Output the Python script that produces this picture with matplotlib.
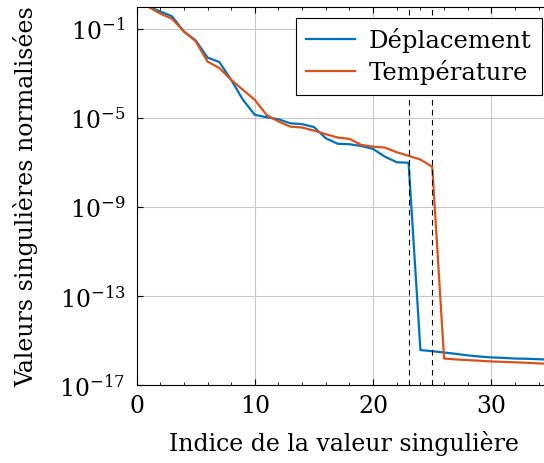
import numpy as np
import matplotlib
matplotlib.use("Agg")
import matplotlib.pyplot as plt

plt.rcParams['font.family'] = ['DejaVu Serif']
plt.rcParams['mathtext.fontset'] = 'dejavuserif'

# singular value index
indices = list(range(1, 36))

# log10 of normalised singular values
log_depl = [0.0, -0.21, -0.43, -1.11, -1.51, -2.28, -2.48, -3.28, -4.18, -4.85,
            -4.96, -5.05, -5.23, -5.27, -5.40, -5.90, -6.15, -6.17, -6.25, -6.38,
            -6.73, -6.98, -7.00, -15.41, -15.46, -15.52, -15.58, -15.65, -15.70, -15.74,
            -15.76, -15.79, -15.80, -15.82, -15.84]
log_temp = [0.0, -0.31, -0.54, -1.11, -1.55, -2.46, -2.75, -3.28, -3.73, -4.18,
            -4.86, -5.15, -5.38, -5.42, -5.56, -5.72, -5.87, -5.93, -6.20, -6.28,
            -6.32, -6.53, -6.69, -6.86, -7.18, -15.79, -15.83, -15.86, -15.89, -15.92,
            -15.94, -15.96, -15.98, -16.01, -16.03]

depl = [10 ** v for v in log_depl]
temp = [10 ** v for v in log_temp]

cut_lines = [23, 25]

fig = plt.figure(figsize=(5.44, 4.63), dpi=100)
ax = fig.add_axes([0.251, 0.1674, 0.761, 0.818])

ax.plot(indices, depl, color='#0072BD', lw=1.6, label='Déplacement')
ax.plot(indices, temp, color='#D95319', lw=1.6, label='Température')
for c in cut_lines:
    ax.axvline(c, color='black', lw=0.8, ls=(0, (5, 4)))

ax.set_yscale('log')
ax.set_ylim(1e-17, 1e0)
ax.set_xlim(0, 35)
ax.set_yticks([1e-17, 1e-13, 1e-9, 1e-5, 1e-1])
ax.yaxis.set_minor_locator(matplotlib.ticker.NullLocator())
ax.set_xticks([0, 10, 20, 30])
ax.set_xticks(np.arange(0, 36, 2), minor=True)
ax.grid(True, which='major', color='#c8c8c8', lw=0.8)
ax.tick_params(which='both', direction='in', top=True, right=True, labelsize=17)
ax.tick_params(which='major', length=4)
ax.tick_params(which='minor', length=2.5)
ax.tick_params(axis='x', pad=7)
ax.tick_params(axis='y', pad=8)

ax.set_xlabel('Indice de la valeur singulière', fontsize=17, labelpad=9)
ax.set_ylabel('Valeurs singulières normalisées', fontsize=17, labelpad=15)

leg = ax.legend(loc='upper right', bbox_to_anchor=(0.996, 0.99), fontsize=17.5,
                fancybox=False, edgecolor='black', framealpha=1,
                handlelength=2.0, handletextpad=0.6, borderpad=0.4,
                labelspacing=0.3, borderaxespad=0.3)
leg.get_frame().set_linewidth(0.8)

fig.savefig('out.png', dpi=100)
